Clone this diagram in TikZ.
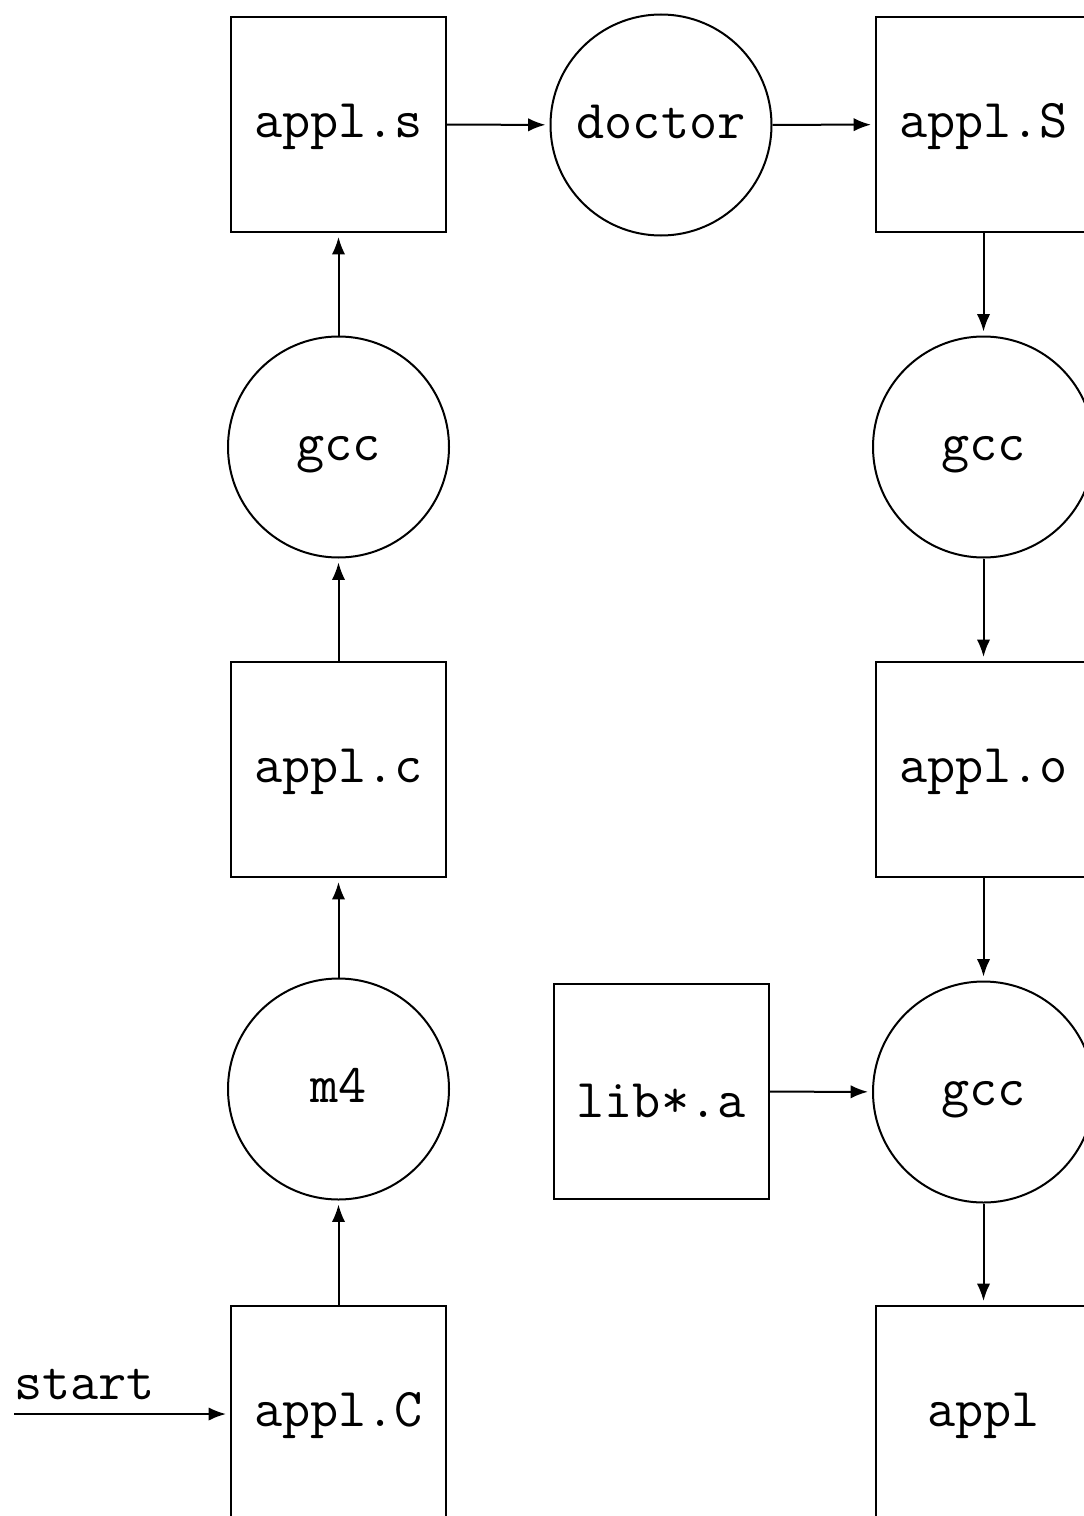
\documentclass[tikz,border=0pt]{standalone}
\usetikzlibrary{arrows.meta}
\begin{document}
\begin{tikzpicture}[x=0.75pt,y=-0.75pt,
  txt/.style={font=\ttfamily\fontsize{41}{41}\selectfont,text height=20pt,text depth=0pt},
  box/.style={txt,draw,line width=1.5pt,minimum width=161.25pt,minimum height=161.25pt,inner sep=0pt},
  proc/.style={txt,draw,circle,line width=1.5pt,minimum size=165.75pt,inner sep=0pt},
  flow/.style={line width=1.5pt,-{Latex[length=13pt,width=10pt]},shorten >=3pt}]
\useasboundingbox (0,0) rectangle (1084,1516);
\clip (0,0) rectangle (1084,1516);
% left column
\node[box]  (appls) at (338.5,124.5) {appl.s};
\node[proc] (gccA)  at (338.5,447)   {gcc};
\node[box]  (applc) at (338.5,769.5) {appl.c};
\node[proc] (mfour) at (338.5,1089)  {m4};
\node[box]  (applC) at (338.5,1413.5) {appl.C};
% middle
\node[proc] (doctor) at (661,125) {doctor};
\node[box]  (lib)    at (661,1091.5) {\raisebox{-9.4pt}{lib*.a}};
% right column
\node[box]  (applS) at (983.5,124.5) {appl.S};
\node[proc] (gccB)  at (983.5,447)   {gcc};
\node[box]  (applo) at (983.5,769.5) {appl.o};
\node[proc] (gccC)  at (983.5,1092)  {gcc};
\node[box]  (appl)  at (983.5,1413.5) {appl};
% start
\coordinate (st) at (14,1414);
\node[txt,anchor=base west,inner sep=0pt] (starttxt) at (14,1399) {start};
% connectors
\draw[flow] (st) -- (applC.west |- st);
\draw[flow] (applC) -- (mfour);
\draw[flow] (mfour) -- (applc);
\draw[flow] (applc) -- (gccA);
\draw[flow] (gccA) -- (appls);
\draw[flow] (appls) -- (doctor);
\draw[flow] (doctor) -- (applS);
\draw[flow] (applS) -- (gccB);
\draw[flow] (gccB) -- (applo);
\draw[flow] (applo) -- (gccC);
\draw[flow] (lib) -- (gccC);
\draw[flow] (gccC) -- (appl);
\end{tikzpicture}
\end{document}
